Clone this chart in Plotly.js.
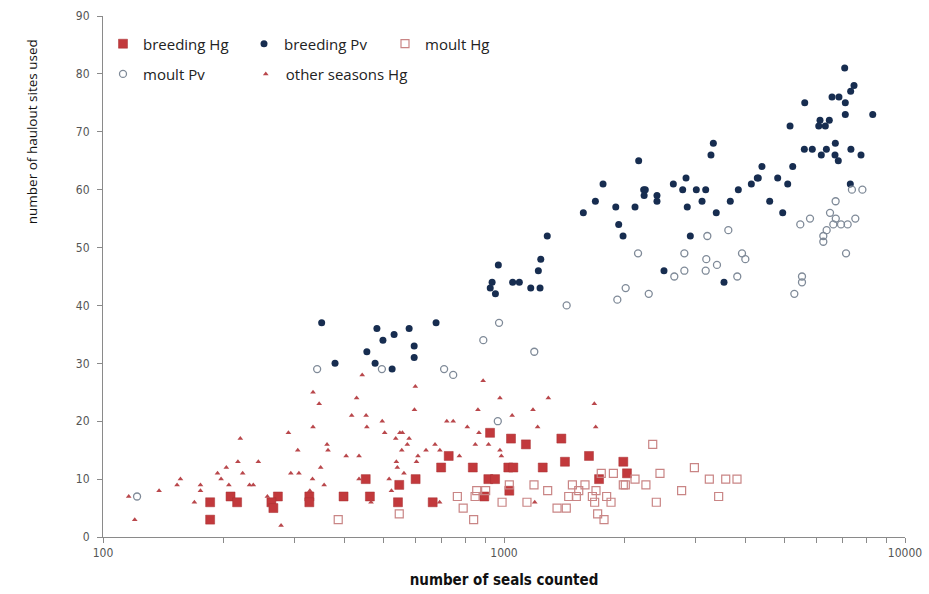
<!DOCTYPE html>
<html>
<head>
<meta charset="utf-8">
<script src="https://cdn.plot.ly/plotly-3.0.1.min.js"></script>
<style>html,body{margin:0;padding:0;background:#fff;}#chart{width:929px;height:594px;}</style>
</head>
<body>
<div id="chart"></div>
<script>
// ---- data (number of seals counted, number of haulout sites used) ----
var breedingHgX = [185,185,208,216,273,263,266,327,327,398,463,452,548,544,602,664,728,697,836,923,1041,914,950,893,1031,1025,1055,1134,1390,1419,1629,1249,1984,2026,1726];
var breedingHgY = [6,3,7,6,7,6,5,7,6,7,7,10,9,6,10,6,14,12,12,18,17,10,10,7,8,12,12,16,17,13,14,12,13,11,10];

var breedingPvX = [351,482,532,580,677,499,455,597,477,379,526,597,
  1282,968,1235,1218,934,924,952,1051,1092,1166,1230,
  3327,3282,2167,2844,1766,2230,2251,2236,2407,2407,2644,2790,3017,3184,3118,3840,3667,3383,2864,4138,4282,1577,1690,1900,2122,1932,1981,2915,2506,3537,
  7073,7462,7320,6577,6844,7098,5623,7098,8309,6138,6475,6094,6329,5168,6703,5610,5872,6367,6184,6690,6818,7330,7768,5248,4398,4307,4814,5099,4598,4955,7305];
var breedingPvY = [37,36,35,36,37,34,32,33,30,30,29,31,
  52,47,48,46,44,43,42,44,44,43,43,
  68,66,65,62,61,60,60,59,59,58,61,60,60,60,58,60,58,56,57,61,62,56,58,57,57,54,52,52,46,44,
  81,78,77,76,76,75,75,73,73,72,72,71,71,71,68,67,67,67,66,66,65,67,66,64,64,62,62,61,58,56,61];

var moultHgX = [386,548,765,791,840,847,855,900,989,1031,2349,2984,3251,3572,3811,3430,2773,2398,2449,2259,2122,2007,1984,1874,1748,1592,1481,1536,1515,1450,1696,1661,1803,1849,1683,1712,1776,1356,1430,1285,1188,1141];
var moultHgY = [3,4,7,5,3,7,8,8,6,9,16,12,10,10,10,7,8,6,11,9,10,9,9,11,11,9,9,8,7,7,8,7,7,6,6,4,3,5,5,8,9,6];

var moultPvX = [342,121.6,496,709,747,888,972,965,1433,1190,3214,3626,2159,2817,3195,3922,3998,3397,2817,3184,2659,3817,2011,2296,1917,6256,6256,7128,5535,5535,5297,7373,7829,6714,6501,5796,5481,6720,6626,6925,7194,7518,6377];
var moultPvY = [29,7,29,29,28,34,37,20,40,32,52,53,49,49,48,49,48,47,46,46,45,45,43,42,41,51,52,49,45,44,42,60,60,58,56,55,54,55,54,54,54,55,53];

var otherHgX = [115.9,120,138,169,175,175,153,156,193,197,206,203,217,223,220,232,237,244,257,278,290,294,308,306,328,333,334,334,346,349,356,362,364,404,417,429,435,435,443,453,455,497,504,537,466,517,524,539,542,601,598,550,558,580,574,556,673,720,747,810,861,887,977,1048,866,848,915,977,985,610,605,639,692,774,563,691,1181,1290,1213,1680,1693,1193];
var otherHgY = [7,3,8,6,9,8,9,10,11,10,9,12,13,11,17,9,9,13,7,2,18,11,11,15,8,10,19,25,23,12,9,16,15,14,21,24,14,10,28,21,19,20,18,17,6,10,8,13,12,26,22,18,18,17,16,15,16,20,20,19,22,27,24,21,18,16,16,15,14,14,13,15,15,14,11,6,22,24,19,23,19,6];

var xTickVals = [100,1000,10000];
var xTickText = ['100','1000','10000'];
var seriesNames = ['breeding Hg','breeding Pv','moult Hg','moult Pv','other seasons Hg'];

var traces = [
  {x: breedingHgX, y: breedingHgY, name: seriesNames[0], type:'scatter', mode:'markers', legend:'legend',
   marker:{symbol:'square', size:9, color:'#c2393c', line:{color:'#a83033', width:0.5}}},
  {x: breedingPvX, y: breedingPvY, name: seriesNames[1], type:'scatter', mode:'markers', legend:'legend',
   marker:{symbol:'circle', size:7, color:'#172d50', line:{width:0}}},
  {x: moultHgX, y: moultHgY, name: seriesNames[2], type:'scatter', mode:'markers', legend:'legend',
   marker:{symbol:'square-open', size:8, color:'#c98585', line:{color:'#c98585', width:1.2}}},
  {x: moultPvX, y: moultPvY, name: seriesNames[3], type:'scatter', mode:'markers', legend:'legend2',
   marker:{symbol:'circle-open', size:7, color:'#7f8a98', line:{color:'#7f8a98', width:1.3}}},
  {x: otherHgX, y: otherHgY, name: seriesNames[4], type:'scatter', mode:'markers', legend:'legend3',
   marker:{symbol:'triangle-up', size:5, color:'#b9474b', line:{width:0}}}
];

var tickFont = {family:'"Liberation Sans Narrow", "DejaVu Sans Condensed", sans-serif', size:12, color:'#555'};
var legendFont = {family:'"Open Sans", sans-serif', size:15, color:'#222'};

var layout = {
  width:929, height:594,
  paper_bgcolor:'#fff', plot_bgcolor:'#fff',
  margin:{l:103, r:24, t:16, b:57},
  showlegend:true,
  xaxis:{
    type:'log', range:[2, 4], tickvals:xTickVals, ticktext:xTickText,
    showgrid:false, zeroline:false, showline:true, linecolor:'#8a8a8a', linewidth:1,
    ticks:'outside', ticklen:5, tickcolor:'#8a8a8a',
    minor:{ticks:'outside', ticklen:5, tickcolor:'#8a8a8a', dtick:'D1', showgrid:false},
    tickfont:tickFont,
    title:{text:'<b>number of seals counted</b>', standoff:15,
      font:{family:'"DejaVu Sans Condensed", sans-serif', size:15, color:'#111'}}
  },
  yaxis:{
    range:[0, 90], dtick:10, tick0:0,
    showgrid:false, zeroline:false, showline:true, linecolor:'#8a8a8a', linewidth:1,
    ticks:'outside', ticklen:5, tickcolor:'#8a8a8a', ticklabelstandoff:5,
    tickfont:tickFont
  },
  legend:{orientation:'h', x:0, xanchor:'left', y:0.978, yanchor:'top',
    entrywidth:96, entrywidthmode:'pixels', font:legendFont, bgcolor:'rgba(0,0,0,0)', itemclick:false},
  legend2:{orientation:'h', x:0, xanchor:'left', y:0.920, yanchor:'top',
    font:legendFont, bgcolor:'rgba(0,0,0,0)', itemclick:false},
  legend3:{orientation:'h', x:0.178, xanchor:'left', y:0.920, yanchor:'top',
    font:legendFont, bgcolor:'rgba(0,0,0,0)', itemclick:false},
  annotations:[
    {text:'number of haulout sites used', xref:'paper', yref:'paper',
     x:-0.0885, y:0.777, xanchor:'center', yanchor:'middle', textangle:-90, showarrow:false,
     font:{family:'"Open Sans", sans-serif', size:13.5, color:'#111'}}
  ]
};

Plotly.newPlot('chart', traces, layout, {displayModeBar:false, staticPlot:true});
</script>
</body>
</html>
